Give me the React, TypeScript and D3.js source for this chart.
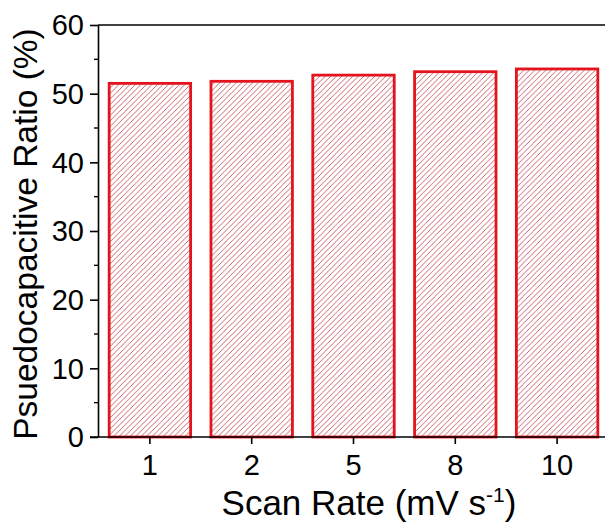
import React, { useEffect, useRef } from "react";
import * as d3 from "d3";

const scanRates = ["1", "2", "5", "8", "10"];
const ratios = [51.5, 51.8, 52.7, 53.2, 53.6];
const yTicks = [0, 10, 20, 30, 40, 50, 60];
const yMinorTicks = [5, 15, 25, 35, 45, 55];

const W = 605, H = 522;
const left = 98, top = 25, bottom = 437, right = 608;

export default function App() {
  const ref = useRef<SVGSVGElement>(null);

  useEffect(() => {
    const svg = d3.select(ref.current);
    svg.selectAll("*").remove();

    const font = "'Liberation Sans', Arial, sans-serif";

    const x = d3.scaleBand().domain(scanRates).range([left + 1, right]).paddingInner(0.2).paddingOuter(0.1);
    const y = d3.scaleLinear().domain([0, 60]).range([bottom, top]);

    const defs = svg.append("defs");
    const pat = defs.append("pattern")
      .attr("id", "hatch")
      .attr("patternUnits", "userSpaceOnUse")
      .attr("width", 5.5)
      .attr("height", 5.5);
    pat.append("rect").attr("width", 5.5).attr("height", 5.5).attr("fill", "white");
    pat.append("path")
      .attr("d", "M0,5.5 L5.5,0 M-1,1 L1,-1 M4.5,6.5 L6.5,4.5")
      .attr("stroke", "#c04a54")
      .attr("stroke-width", 0.85);

    // bars
    svg.selectAll(".bar")
      .data(ratios)
      .join("rect")
      .attr("class", "bar")
      .attr("x", (d, i) => x(scanRates[i])!)
      .attr("y", d => y(d))
      .attr("width", x.bandwidth())
      .attr("height", d => bottom - y(d))
      .attr("fill", "url(#hatch)")
      .attr("stroke", "#e3141e")
      .attr("stroke-width", 2.8);

    // frame top line
    svg.append("line")
      .attr("x1", left).attr("x2", W).attr("y1", top).attr("y2", top)
      .attr("stroke", "black").attr("stroke-width", 1.6);

    // y axis
    const yAxis = svg.append("g")
      .attr("transform", `translate(${left},0)`)
      .call(d3.axisLeft(y).tickValues(yTicks).tickSize(8).tickSizeOuter(0).tickFormat(d3.format("d")));
    yAxis.select(".domain").attr("stroke-width", 1.6);
    yAxis.selectAll(".tick line").attr("stroke-width", 1.6);
    yAxis.selectAll(".tick text")
      .attr("x", -14)
      .attr("dy", "0.34em")
      .style("font-family", font)
      .style("font-size", "29px")
      .attr("fill", "black");

    svg.append("g").selectAll("line")
      .data(yMinorTicks)
      .join("line")
      .attr("x1", left - 4).attr("x2", left)
      .attr("y1", d => y(d)).attr("y2", d => y(d))
      .attr("stroke", "black").attr("stroke-width", 1.4);

    // x axis
    svg.append("line")
      .attr("x1", left - 8).attr("x2", W).attr("y1", bottom).attr("y2", bottom)
      .attr("stroke", "black").attr("stroke-width", 1.6);
    const xAxis = svg.append("g")
      .attr("transform", `translate(0,${bottom})`)
      .call(d3.axisBottom(x).tickSize(7).tickSizeOuter(0));
    xAxis.select(".domain").remove();
    xAxis.selectAll(".tick line").attr("stroke-width", 1.6);
    xAxis.selectAll(".tick text")
      .attr("y", 17)
      .attr("dy", "0.71em")
      .style("font-family", font)
      .style("font-size", "29px")
      .attr("fill", "black");

    // axis titles
    svg.append("text")
      .attr("transform", `translate(37,${234}) rotate(-90)`)
      .attr("text-anchor", "middle")
      .style("font-family", font)
      .style("font-size", "33.5px")
      .attr("fill", "black")
      .text("Psuedocapacitive Ratio (%)");

    const xt = svg.append("text")
      .attr("x", 369).attr("y", 515)
      .attr("text-anchor", "middle")
      .style("font-family", font)
      .style("font-size", "35px")
      .attr("fill", "black");
    xt.append("tspan").text("Scan Rate (mV s");
    xt.append("tspan").attr("dy", -13).style("font-size", "21px").text("-1");
    xt.append("tspan").attr("dy", 13).text(")");
  }, []);

  return (
    <svg ref={ref} width={W} height={H}
      style={{ position: "absolute", left: 0, top: 0, background: "white" }} />
  );
}
